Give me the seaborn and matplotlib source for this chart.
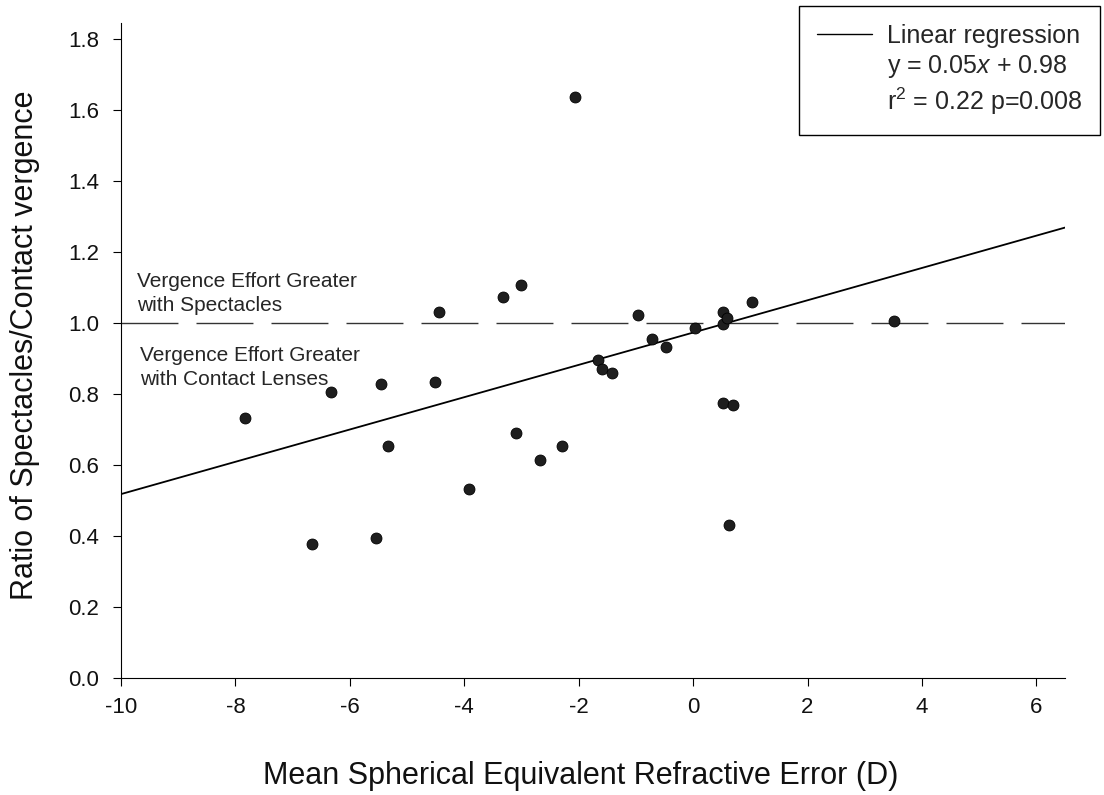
import matplotlib
matplotlib.use("Agg")
import matplotlib.pyplot as plt
import seaborn as sns
import pandas as pd
import numpy as np
from matplotlib.lines import Line2D

# ---- data ----
refractive_error = [-7.83, -6.67, -6.33, -5.55, -5.46, -5.34, -4.52, -4.44, -3.92, -3.33,
                    -3.10, -3.01, -2.67, -2.29, -2.06, -1.66, -1.60, -1.41, -0.97, -0.72,
                    -0.48, 0.04, 0.52, 0.53, 0.53, 0.59, 0.62, 0.70, 1.03, 3.51]
ratio = [0.733, 0.377, 0.806, 0.395, 0.828, 0.653, 0.833, 1.030, 0.532, 1.074,
         0.689, 1.107, 0.615, 0.653, 1.636, 0.895, 0.870, 0.860, 1.022, 0.954,
         0.932, 0.986, 0.776, 0.997, 1.032, 1.014, 0.431, 0.769, 1.060, 1.006]

reg_slope = 0.0455       # slope of the drawn regression line
reg_intercept = 0.973    # intercept of the drawn regression line
reference_ratio = 1.0    # equal vergence line

x_ticks = [-10, -8, -6, -4, -2, 0, 2, 4, 6]
y_ticks = [0.0, 0.2, 0.4, 0.6, 0.8, 1.0, 1.2, 1.4, 1.6, 1.8]
x_limits = (-10, 6.5)
y_limits = (0, 1.845)

legend_lines = ["Linear regression", "y = 0.05$x$ + 0.98", "r$^2$ = 0.22 p=0.008"]
annot_upper = "Vergence Effort Greater\nwith Spectacles"
annot_lower = "Vergence Effort Greater\nwith Contact Lenses"
x_label = "Mean Spherical Equivalent Refractive Error (D)"
y_label = "Ratio of Spectacles/Contact vergence"

# ---- style ----
sns.set_style("ticks")
plt.rcParams["font.family"] = ["Liberation Sans", "DejaVu Sans"]
plt.rcParams["mathtext.fontset"] = "custom"
plt.rcParams["mathtext.rm"] = "Liberation Sans"
plt.rcParams["mathtext.it"] = "Liberation Sans:italic"

fig = plt.figure(figsize=(11.04, 7.95), dpi=100)
ax = fig.add_axes([121 / 1104, 1 - 678 / 795, (1065 - 121) / 1104, (678 - 23) / 795])

df = pd.DataFrame({"x": refractive_error, "y": ratio})
sns.scatterplot(data=df, x="x", y="y", ax=ax, s=62, color="#1e1e1e",
                edgecolor="#000000", linewidth=0.6, zorder=3)

xs = np.array(x_limits)
reg_df = pd.DataFrame({"x": xs, "y": reg_intercept + reg_slope * xs})
sns.lineplot(data=reg_df, x="x", y="y", ax=ax, color="black", lw=1.3, zorder=2)

ax.axhline(reference_ratio, color="#333333", lw=1.0, linestyle=(0, (41, 13)), zorder=1)

ax.text(-9.72, 1.083, annot_upper, fontsize=15, va="center", ha="left", linespacing=1.3)
ax.text(-9.67, 0.875, annot_lower, fontsize=15, va="center", ha="left", linespacing=1.3)

ax.set_xlim(*x_limits)
ax.set_ylim(*y_limits)
ax.set_xticks(x_ticks)
ax.set_xticklabels([f"{t:d}" for t in x_ticks])
ax.set_yticks(y_ticks)
ax.set_yticklabels([f"{t:.1f}" for t in y_ticks])
ax.tick_params(axis="both", direction="out", length=6, width=0.8, labelsize=16,
               color="black", labelcolor="#111111")
ax.tick_params(axis="x", pad=8)
ax.tick_params(axis="y", pad=10)
for side in ["top", "right"]:
    ax.spines[side].set_visible(False)
for side in ["left", "bottom"]:
    ax.spines[side].set_linewidth(0.8)
    ax.spines[side].set_color("black")

ax.set_xlabel(x_label, fontsize=22, color="#111111")
ax.set_ylabel(y_label, fontsize=22, color="#111111")
ax.xaxis.set_label_coords(0.487, -0.127)
ax.yaxis.set_label_coords(-0.086, 0.508)

handles = [Line2D([], [], color="black", lw=1.0),
           Line2D([], [], alpha=0), Line2D([], [], alpha=0)]
leg = fig.legend(handles, legend_lines, loc="upper right",
                 bbox_to_anchor=(1100 / 1104, 1 - 6 / 795), bbox_transform=fig.transFigure,
                 fontsize=18, frameon=True, fancybox=False, edgecolor="black",
                 framealpha=1, borderaxespad=0, borderpad=0.72, labelspacing=0.22,
                 handlelength=2.2, handletextpad=0.6)
leg.get_frame().set_linewidth(1.0)

fig.savefig("out.png", dpi=100)
